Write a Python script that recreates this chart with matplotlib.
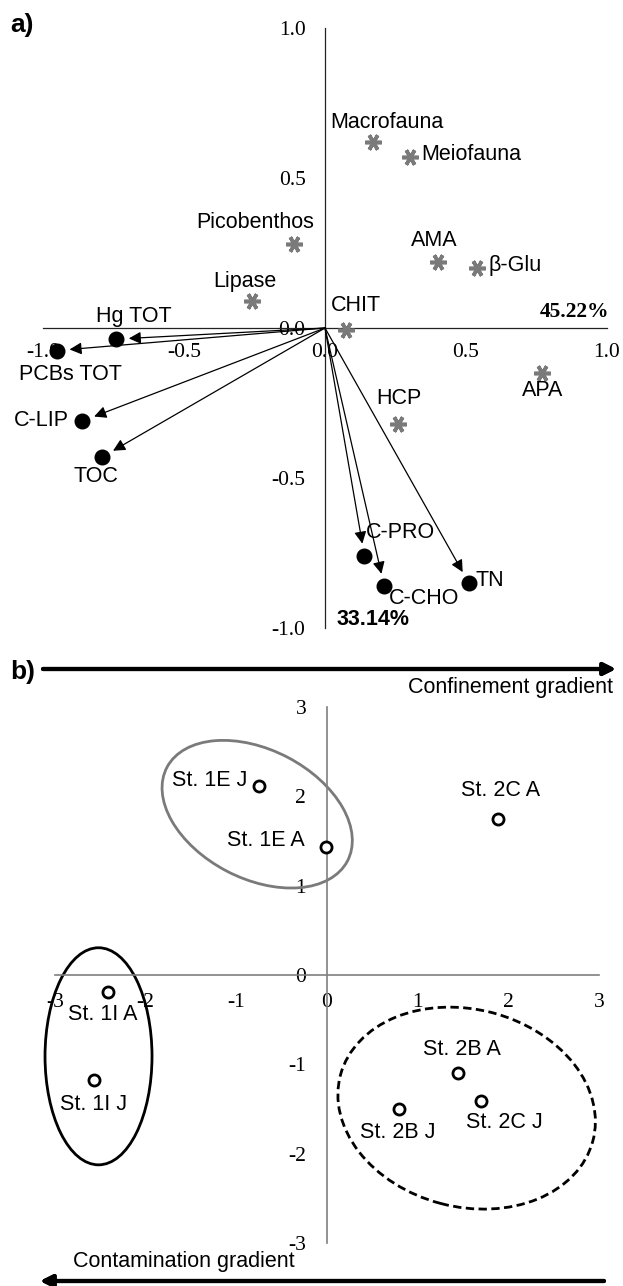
import matplotlib.pyplot as plt
from matplotlib.patches import Ellipse

plt.rcParams['axes.unicode_minus'] = False
plt.rcParams['font.family'] = ['Liberation Sans', 'DejaVu Sans']

# a) PCA - biological variables (asterisks)
bio_names = ['Macrofauna', 'Meiofauna', 'Picobenthos', 'AMA', 'β-Glu', 'Lipase', 'CHIT', 'APA', 'HCP']
bio_x = [0.17, 0.30, -0.11, 0.40, 0.54, -0.26, 0.075, 0.77, 0.26]
bio_y = [0.62, 0.57, 0.28, 0.22, 0.20, 0.09, -0.005, -0.15, -0.32]

# a) PCA - environmental variables (arrows + dots)
env_names = ['Hg TOT', 'PCBs TOT', 'C-LIP', 'TOC', 'C-PRO', 'C-CHO', 'TN']
env_x = [-0.74, -0.95, -0.86, -0.79, 0.14, 0.21, 0.51]
env_y = [-0.037, -0.075, -0.31, -0.43, -0.76, -0.86, -0.85]

pc1_label = '45.22%'
pc2_label = '33.14%'
ticks_a = [-1.0, -0.5, 0.0, 0.5, 1.0]

# b) station scores
st_names = ['St. 1E J', 'St. 1E A', 'St. 2C A', 'St. 1I A', 'St. 1I J', 'St. 2B A', 'St. 2C J', 'St. 2B J']
st_x = [-0.75, -0.01, 1.89, -2.42, -2.57, 1.44, 1.70, 0.79]
st_y = [2.12, 1.43, 1.75, -0.19, -1.17, -1.10, -1.41, -1.50]
ticks_b = [-3, -2, -1, 0, 1, 2, 3]

# label placement (offset in pixels, ha)
bio_off = {'Macrofauna': (14, 19, 'center'), 'Meiofauna': (12, 2, 'left'),
           'Picobenthos': (-39, 22, 'center'), 'AMA': (-4, 21, 'center'),
           'β-Glu': (11, 2, 'left'), 'Lipase': (-7, 19, 'center'),
           'CHIT': (10, 24, 'center'), 'APA': (1, -18, 'center'),
           'HCP': (1, 26, 'center')}
env_off = {'Hg TOT': (17, 23, 'center'), 'PCBs TOT': (13, -24, 'center'),
           'C-LIP': (-14, 0, 'right'), 'TOC': (-6, -19, 'center'),
           'C-PRO': (36, 23, 'center'), 'C-CHO': (40, -12, 'center'),
           'TN': (7, 3, 'left')}
st_off = {'St. 1E J': (-12, 5, 'right'), 'St. 1E A': (-21, 7, 'right'),
          'St. 2C A': (2, 28, 'center'), 'St. 1I A': (-5, -23, 'center'),
          'St. 1I J': (0, -25, 'center'), 'St. 2B A': (4, 24, 'center'),
          'St. 2C J': (23, -22, 'center'), 'St. 2B J': (-1, -23, 'center')}

SANS = ['Liberation Sans', 'DejaVu Sans']
SERIF = ['Liberation Serif', 'DejaVu Serif']
FS = 15.5

W, H = 623, 1286
fig = plt.figure(figsize=(W / 100, H / 100), dpi=100)

# ---------------- panel a ----------------
ax = fig.add_axes([43 / W, 1 - 628 / H, 564 / W, 600 / H])
ax.set_xlim(-1, 1)
ax.set_ylim(-1, 1)
for s in ['top', 'right']:
    ax.spines[s].set_visible(False)
for s in ['left', 'bottom']:
    ax.spines[s].set_position('zero')
    ax.spines[s].set_color('#222222')
    ax.spines[s].set_linewidth(0.9)
ax.set_xticks(ticks_a)
ax.set_yticks(ticks_a)
ax.set_xticklabels(['%.1f' % t for t in ticks_a], family=SERIF, fontsize=FS)
ax.set_yticklabels(['%.1f' % t for t in ticks_a], family=SERIF, fontsize=FS)
ax.tick_params(axis='x', length=0, pad=11)
ax.tick_params(axis='y', length=0, pad=14)
ax.patch.set_visible(False)

for name, x, y in zip(env_names, env_x, env_y):
    ax.annotate('', xy=(x, y), xytext=(0, 0),
                arrowprops=dict(arrowstyle='-|>', color='k', lw=0.9,
                                mutation_scale=18, shrinkA=0, shrinkB=9))
ax.plot(env_x, env_y, 'o', color='k', ms=10.5, zorder=3)
for name, x, y in zip(env_names, env_x, env_y):
    dx, dy, ha = env_off[name]
    ax.annotate(name, (x, y), xytext=(dx, dy), textcoords='offset pixels',
                ha=ha, va='center', fontsize=FS, family=SANS)

ax.plot(bio_x, bio_y, ls='none', marker=(6, 2, 90), color='#7a7a7a',
        ms=12, mew=2.6, zorder=3)
for name, x, y in zip(bio_names, bio_x, bio_y):
    dx, dy, ha = bio_off[name]
    ax.annotate(name, (x, y), xytext=(dx, dy), textcoords='offset pixels',
                ha=ha, va='center', fontsize=FS, family=SANS)

ax.text(1.007, 0.053, pc1_label, ha='right', va='center', fontsize=FS,
        fontweight='bold', family=SERIF)
ax.text(0.04, -0.973, pc2_label, ha='left', va='center', fontsize=15.5,
        fontweight='bold', family=SANS)

# ---------------- panel b ----------------
bx = fig.add_axes([55 / W, 1 - 1243 / H, 544 / W, 536 / H])
bx.set_xlim(-3, 3)
bx.set_ylim(-3, 3)
for s in ['top', 'right']:
    bx.spines[s].set_visible(False)
for s in ['left', 'bottom']:
    bx.spines[s].set_position('zero')
    bx.spines[s].set_color('#7f7f7f')
    bx.spines[s].set_linewidth(1.2)
bx.set_xticks(ticks_b)
bx.set_yticks(ticks_b)
bx.set_xticklabels([str(t) for t in ticks_b], family=SERIF, fontsize=FS)
bx.set_yticklabels([str(t) for t in ticks_b], family=SERIF, fontsize=FS)
bx.tick_params(axis='x', length=0, pad=13)
bx.tick_params(axis='y', length=0, pad=15)
bx.patch.set_visible(False)

groups = [((-0.77, 1.80), 2.25, 1.44, -28, '#7a7a7a', '-'),
          ((-2.52, -0.91), 1.18, 2.43, 0, 'k', '-'),
          ((1.54, -1.49), 2.88, 2.21, -15, 'k', (0, (3, 1.6)))]
for c, w, h, ang, col, ls in groups:
    bx.add_patch(Ellipse(c, w, h, angle=ang, fill=False, edgecolor=col,
                         lw=2, ls=ls, zorder=2, clip_on=False))

bx.plot(st_x, st_y, 'o', mfc='white', mec='k', ms=8, mew=2, zorder=3)
for name, x, y in zip(st_names, st_x, st_y):
    dx, dy, ha = st_off[name]
    bx.annotate(name, (x, y), xytext=(dx, dy), textcoords='offset pixels',
                ha=ha, va='center', fontsize=FS, family=SANS)

# panel letters and gradient arrows
fig.text(10 / W, 1 - 25 / H, 'a)', ha='left', va='center', fontsize=19,
         fontweight='bold', family=SANS)
fig.text(10 / W, 1 - 672 / H, 'b)', ha='left', va='center', fontsize=19,
         fontweight='bold', family=SANS)

fig.add_artist(plt.annotate('', xy=(616 / W, 1 - 669 / H), xytext=(43 / W, 1 - 669 / H),
                            xycoords='figure fraction', textcoords='figure fraction',
                            arrowprops=dict(arrowstyle='-|>', color='k', lw=3,
                                            mutation_scale=18, shrinkA=0, shrinkB=0)))
fig.text(613 / W, 1 - 688 / H, 'Confinement gradient', ha='right', va='center',
         fontsize=FS, family=SANS)

fig.add_artist(plt.annotate('', xy=(40 / W, 1 - 1281 / H), xytext=(604 / W, 1 - 1281 / H),
                            xycoords='figure fraction', textcoords='figure fraction',
                            arrowprops=dict(arrowstyle='-|>', color='k', lw=3,
                                            mutation_scale=18, shrinkA=0, shrinkB=0)))
fig.text(73 / W, 1 - 1261 / H, 'Contamination gradient', ha='left', va='center',
         fontsize=FS, family=SANS)

fig.savefig('out.png', dpi=100)
